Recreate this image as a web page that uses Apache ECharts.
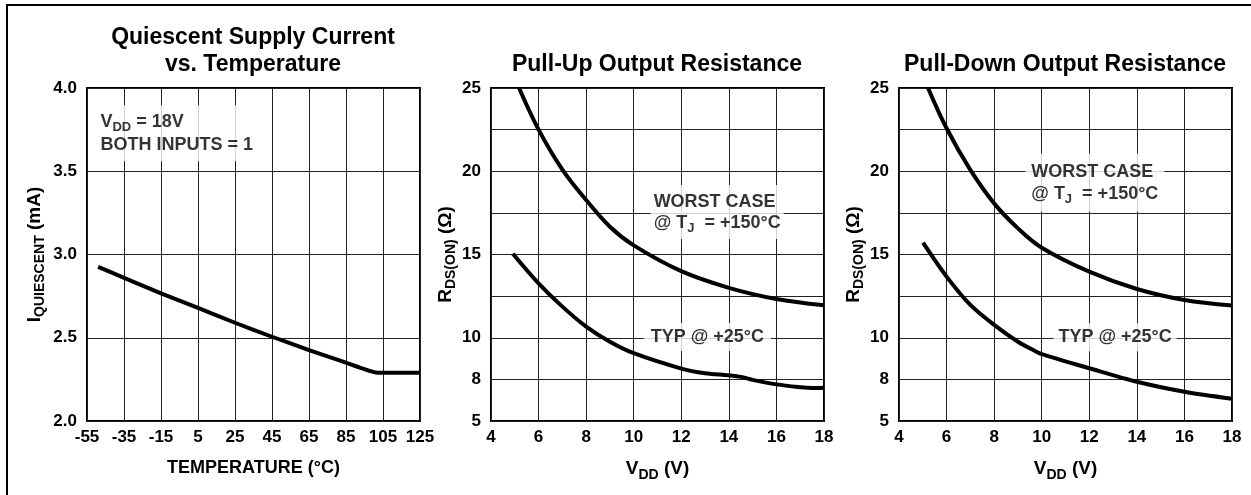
<!DOCTYPE html>
<html>
<head>
<meta charset="utf-8">
<script src="https://cdn.jsdelivr.net/npm/echarts@6/dist/echarts.min.js"></script>
<style>
html,body{margin:0;padding:0;background:#fff;}
#c{width:1251px;height:495px;}
</style>
</head>
<body>
<div id="c"></div>
<script>
// ---------- data ----------
const tempC      = [-49, -35, -15, 5, 25, 45, 65, 85, 102, 125];
const iQuiescent = [2.926, 2.86, 2.766, 2.68, 2.59, 2.506, 2.426, 2.35, 2.29, 2.29];

const vddUpWorst = [5.18, 6, 7, 8, 9, 10, 12, 14, 16, 18];
const rUpWorst   = [25, 22.5, 20.1, 18.27, 16.67, 15.55, 14.0, 13.0, 12.33, 11.95];
const vddUpTyp   = [4.92, 6, 7, 8, 9, 10, 12, 13, 14, 14.5, 15, 16, 17, 17.5, 18];
const rUpTyp     = [15.05, 13.27, 11.87, 10.67, 9.76, 9.07, 8.15, 7.87, 7.74, 7.65, 7.47, 7.2, 7.03, 6.98, 7.0];

const vddDownWorst = [5.22, 6, 7, 8, 9, 10, 12, 14, 16, 18];
const rDownWorst   = [25, 22.58, 20.08, 18.07, 16.57, 15.41, 13.97, 12.93, 12.27, 11.93];
const vddDownTyp   = [5.01, 6, 7, 8, 9, 9.7, 10, 12, 14, 16, 18];
const rDownTyp     = [15.71, 13.67, 11.97, 10.77, 9.76, 9.22, 9.02, 8.17, 7.36, 6.76, 6.34];

// resistance axis: grid every 2.5, labels as printed on the chart
const rTickValues = [5, 7.5, 10, 12.5, 15, 17.5, 20, 22.5, 25];
const rTickLabels = ['5', '8', '10', '', '15', '', '20', '', '25'];

const titles = ['Quiescent Supply Current\nvs. Temperature', 'Pull-Up Output Resistance', 'Pull-Down Output Resistance'];

// ---------- chart ----------
const FONT = "'Liberation Sans', Arial, Helvetica, sans-serif";
const zip = (xs, ys) => xs.map((x, i) => [x, ys[i]]);

const subTok = (size, pad, lh) => ({fontSize: size, fontWeight: 'bold', fontFamily: FONT, color: '#000', padding: [pad, 0, 0, 0], lineHeight: lh});
const bigTok = (size, lh) => ({fontSize: size, fontWeight: 'bold', fontFamily: FONT, color: '#000', lineHeight: lh});

const gridCommon = {show: true, borderColor: '#000', borderWidth: 2, backgroundColor: 'transparent'};
const splitLine = {show: true, lineStyle: {color: '#222', width: 1}};
const tickLabel = {fontSize: 17, fontWeight: 'bold', color: '#000', fontFamily: FONT, margin: 8};

function rLabel(v) {
  const i = rTickValues.findIndex(t => Math.abs(t - v) < 1e-6);
  return i >= 0 ? rTickLabels[i] : '';
}

const vddName = {
  name: 'V{sub|DD} (V)',
  nameLocation: 'middle',
  nameGap: 37,
  nameTextStyle: {fontSize: 19, fontWeight: 'bold', color: '#000', fontFamily: FONT, lineHeight: 22,
    rich: {sub: subTok(14, 12, 22)}}
};

const xAxis = [
  Object.assign({gridIndex: 0, type: 'value', min: -55, max: 125, interval: 20,
    axisLine: {show: false}, axisTick: {show: false}, splitLine, axisLabel: tickLabel,
    name: 'TEMPERATURE (°C)', nameLocation: 'middle', nameGap: 38,
    nameTextStyle: {fontSize: 18, fontWeight: 'bold', color: '#000', fontFamily: FONT}}),
  Object.assign({gridIndex: 1, type: 'value', min: 4, max: 18, interval: 2,
    axisLine: {show: false}, axisTick: {show: false}, splitLine, axisLabel: tickLabel}, vddName),
  Object.assign({gridIndex: 2, type: 'value', min: 4, max: 18, interval: 2,
    axisLine: {show: false}, axisTick: {show: false}, splitLine, axisLabel: tickLabel}, vddName)
];

const rName = {
  name: '{big|R}{sub|DS(ON)}{big| (Ω)}',
  nameLocation: 'middle',
  nameGap: 34,
  nameTextStyle: {rich: {big: bigTok(19, 23), sub: subTok(14, 11, 23)}}
};

const yAxis = [
  {gridIndex: 0, type: 'value', min: 2, max: 4, interval: 0.5,
    axisLine: {show: false}, axisTick: {show: false}, splitLine,
    axisLabel: Object.assign({}, tickLabel, {formatter: v => v.toFixed(1), margin: 10}),
    name: '{big|I}{sub|QUIESCENT}{big| (mA)}', nameLocation: 'middle', nameGap: 41,
    nameTextStyle: {rich: {big: bigTok(19, 23), sub: subTok(14, 11, 23)}}},
  Object.assign({gridIndex: 1, type: 'value', min: 5, max: 25, interval: 2.5,
    axisLine: {show: false}, axisTick: {show: false}, splitLine,
    axisLabel: Object.assign({}, tickLabel, {formatter: rLabel, margin: 10})}, rName),
  Object.assign({gridIndex: 2, type: 'value', min: 5, max: 25, interval: 2.5,
    axisLine: {show: false}, axisTick: {show: false}, splitLine,
    axisLabel: Object.assign({}, tickLabel, {formatter: rLabel, margin: 10})}, rName)
];

function curve(xi, xs, ys, smooth) {
  return {type: 'line', xAxisIndex: xi, yAxisIndex: xi, data: zip(xs, ys),
    showSymbol: false, symbol: 'none', smooth: smooth, clip: true,
    lineStyle: {color: '#000', width: 4, cap: 'butt', join: 'round'}, silent: true, z: 3};
}

function note(xi, x, y, text, pad, lh) {
  return {type: 'scatter', xAxisIndex: xi, yAxisIndex: xi, data: [[x, y]],
    symbolSize: 1, itemStyle: {color: 'rgba(0,0,0,0)'}, silent: true, z: 5,
    label: {show: true, position: 'right', distance: 0, formatter: text,
      fontSize: 18, fontWeight: 'bold', color: '#000', fontFamily: FONT, lineHeight: lh,
      backgroundColor: '#fff', padding: pad, align: 'left',
      rich: {sub: subTok(13, 12, lh)}}};
}

const option = {
  animation: false,
  textStyle: {fontFamily: FONT},
  title: titles.map((t, i) => ({
    text: t, left: [253, 657, 1065][i], top: i === 0 ? 24 : 51, textAlign: 'center', padding: 0,
    textStyle: {fontSize: 23, fontWeight: 'bold', color: '#000', fontFamily: FONT, lineHeight: 27}
  })),
  grid: [
    Object.assign({left: 87, top: 88, width: 333, height: 333}, gridCommon),
    Object.assign({left: 491, top: 88, width: 333, height: 333}, gridCommon),
    Object.assign({left: 899, top: 88, width: 333, height: 333}, gridCommon)
  ],
  xAxis, yAxis,
  graphic: [{type: 'rect', shape: {x: 7, y: 5, width: 1300, height: 600},
    style: {fill: 'none', stroke: '#000', lineWidth: 2}, silent: true}],
  series: [
    curve(0, tempC, iQuiescent, 0.15),
    curve(1, vddUpWorst, rUpWorst, 0.35),
    curve(1, vddUpTyp, rUpTyp, 0.35),
    curve(2, vddDownWorst, rDownWorst, 0.35),
    curve(2, vddDownTyp, rDownTyp, 0.3),
    note(0, -50.7, 3.728, 'V{sub|DD} = 18V\nBOTH INPUTS = 1', [5, 5], 23),
    note(1, 10.69, 17.55, 'WORST CASE\n@ T{sub|J}  = +150°C', [6, 3], 21),
    note(1, 10.40, 10.05, 'TYP @ +25°C', [3, 7], 22),
    note(2, 9.29, 19.32, 'WORST CASE\n@ T{sub|J}  = +150°C', [7, 6], 22),
    note(2, 10.47, 10.03, 'TYP @ +25°C', [3, 5], 22)
  ]
};

const chart = echarts.init(document.getElementById('c'), null, {renderer: 'canvas'});
chart.setOption(option);
</script>
</body>
</html>
